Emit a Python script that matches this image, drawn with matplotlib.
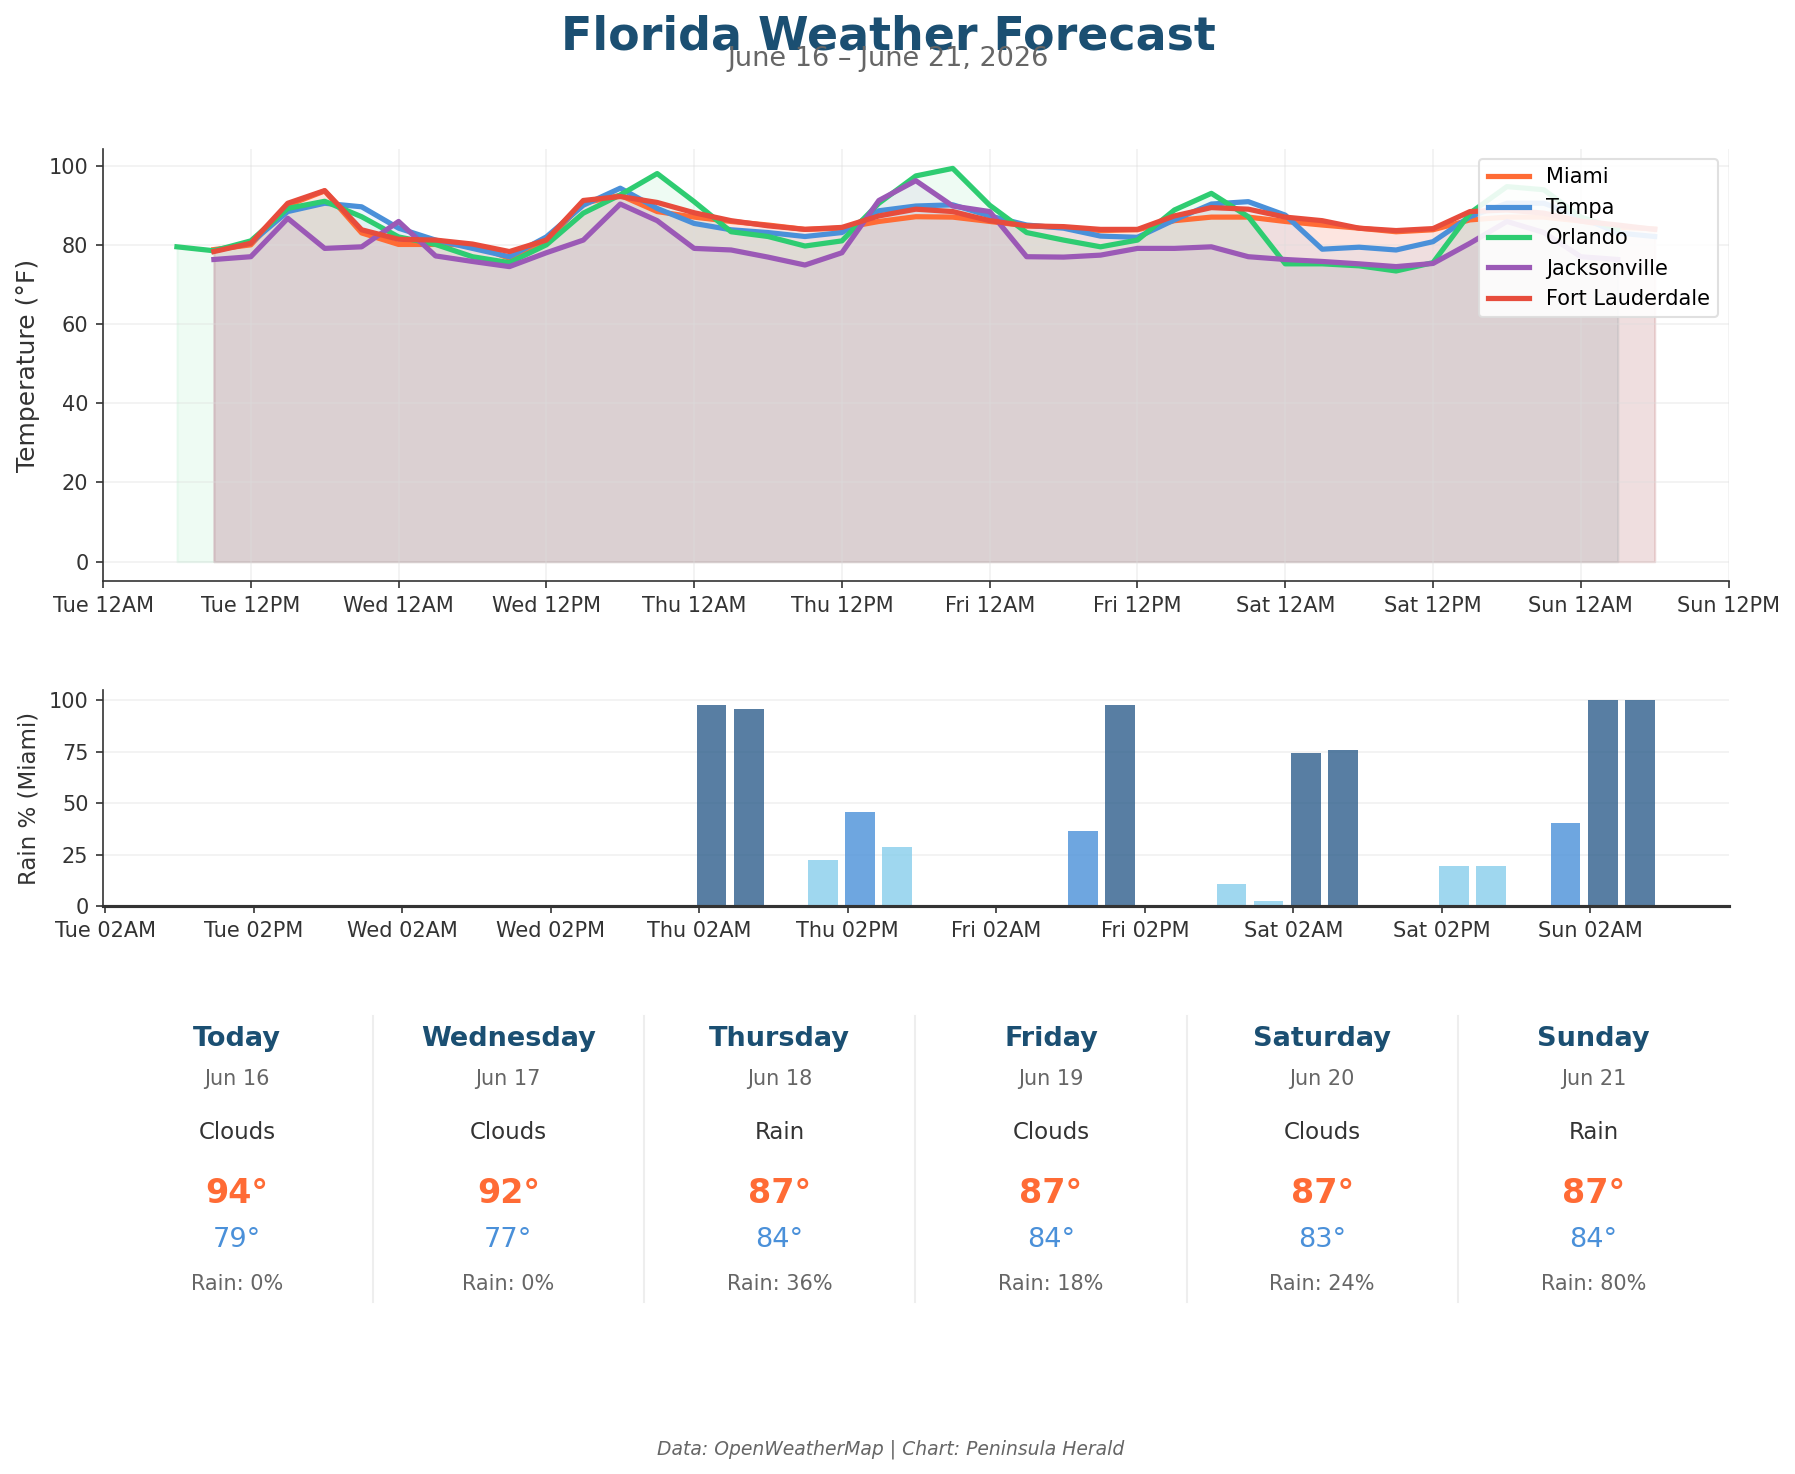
"""Florida weather forecast: city temperatures, Miami rain chance, daily cards."""
import numpy as np
import matplotlib
matplotlib.use("Agg")
import matplotlib.pyplot as plt
import matplotlib.dates as mdates

START = np.datetime64("2026-06-16T00:00")
STEP = np.timedelta64(3, "h")

# 3-hourly temperatures (°F); Miami/Tampa/Fort Lauderdale start Tue 09:00,
# Orlando starts Tue 06:00, Jacksonville starts Tue 09:00 and ends Sun 03:00
miami = [78.8, 80.0, 90.0, 93.6, 83.0, 80.1, 80.1, 80.0, 76.6, 81.0,
         90.5, 92.5, 88.4, 87.0, 85.9, 85.0, 83.9, 84.2, 85.9, 87.1,
         87.0, 85.9, 84.8, 84.4, 83.6, 83.8, 86.1, 87.0, 87.0, 85.9,
         85.0, 84.2, 83.3, 83.8, 86.3, 87.0, 87.0, 86.0, 84.5, 84.0]
tampa = [78.5, 80.5, 88.4, 90.5, 89.6, 84.2, 81.2, 79.1, 77.0, 82.0,
         90.0, 94.3, 89.2, 85.4, 83.8, 83.1, 82.1, 83.1, 88.6, 89.8,
         90.1, 87.3, 85.0, 84.2, 82.2, 81.9, 86.3, 90.3, 90.9, 87.5,
         78.9, 79.4, 78.7, 80.8, 87.1, 90.5, 90.5, 87.0, 83.0, 82.1]
orlando = [79.5, 78.5, 81.0, 89.2, 91.0, 87.1, 82.0, 80.1, 77.0, 75.5,
           80.0, 88.0, 92.6, 98.0, 90.9, 83.3, 82.1, 79.7, 81.0, 90.5,
           97.4, 99.3, 90.0, 83.1, 81.2, 79.5, 81.2, 88.8, 93.0, 87.1,
           75.2, 75.2, 74.7, 73.4, 75.5, 88.0, 94.7, 93.9, 87.0, 84.0]
jacksonville = [76.3, 77.0, 86.7, 79.1, 79.5, 85.9, 77.2, 75.8, 74.5, 78.0,
                81.2, 90.3, 86.1, 79.1, 78.7, 76.9, 74.9, 78.0, 91.2, 96.2,
                89.8, 88.4, 77.0, 76.9, 77.4, 79.1, 79.1, 79.5, 77.0, 76.3,
                75.8, 75.2, 74.5, 75.3, 80.4, 85.9, 83.1, 77.0, 76.3]
fort_lauderdale = [78.3, 80.4, 90.5, 93.7, 83.8, 81.4, 81.2, 80.2, 78.3, 81.2,
                   91.2, 92.2, 90.7, 88.1, 86.1, 84.8, 83.9, 84.4, 87.3, 89.0,
                   88.4, 86.1, 84.8, 84.6, 83.9, 83.9, 87.3, 89.4, 89.0, 87.0,
                   86.1, 84.2, 83.6, 84.1, 88.4, 88.8, 88.0, 86.0, 85.0, 83.9]
first_hour = {"Miami": 9, "Tampa": 9, "Orlando": 6, "Jacksonville": 9, "Fort Lauderdale": 9}

# Miami rain probability (%), same 3-hourly steps as Miami temps
miami_rain = [0, 0, 0, 0, 0, 0, 0, 0, 0, 0,
              0, 0, 0, 0, 98, 95.6, 0, 22.7, 46, 29,
              0, 0, 0, 0, 36.8, 98, 0, 0, 11, 2.8,
              74.7, 75.7, 0, 0, 19.8, 19.8, 0, 40.7, 100, 100]

# daily summary cards (Miami)
day_names = ["Today", "Wednesday", "Thursday", "Friday", "Saturday", "Sunday"]
day_dates = ["Jun 16", "Jun 17", "Jun 18", "Jun 19", "Jun 20", "Jun 21"]
conditions = ["Clouds", "Clouds", "Rain", "Clouds", "Clouds", "Rain"]
highs = [94, 92, 87, 87, 87, 87]
lows = [79, 77, 84, 84, 83, 84]
rain_pct = [0, 0, 36, 18, 24, 80]

cities = {
    "Miami": (miami, "#FF6B35"),
    "Tampa": (tampa, "#4A90D9"),
    "Orlando": (orlando, "#2ECC71"),
    "Jacksonville": (jacksonville, "#9B59B6"),
    "Fort Lauderdale": (fort_lauderdale, "#E74C3C"),
}

TITLE_C = "#1B4F72"

fig = plt.figure(figsize=(1795 / 150, 1474 / 150), dpi=150)

# --- temperature panel
ax = fig.add_axes([0.0574, 0.6056, 0.9056, 0.2935])
for name, (vals, color) in cities.items():
    t = START + np.timedelta64(first_hour[name], "h") + STEP * np.arange(len(vals))
    ax.fill_between(t, 0, vals, color=color, alpha=0.08)
    ax.plot(t, vals, color=color, lw=2.5, label=name)
ax.set_xlim(START, START + np.timedelta64(132, "h"))
ax.xaxis.set_major_locator(mdates.HourLocator(byhour=[0, 12]))
ax.xaxis.set_major_formatter(mdates.DateFormatter("%a %I%p"))
ax.set_yticks([0, 20, 40, 60, 80, 100])
ax.set_ylabel("Temperature (°F)", fontsize=12, color="#333333")
ax.grid(True, color="#dddddd", alpha=0.4, lw=0.8)
ax.legend(loc="upper right", fontsize=10, framealpha=0.9, edgecolor="#dddddd")
for s in ["top", "right"]:
    ax.spines[s].set_visible(False)
ax.spines["left"].set_color("#333333")
ax.spines["bottom"].set_color("#333333")
ax.tick_params(colors="#333333", labelsize=10)

# --- rain panel
ax2 = fig.add_axes([0.0574, 0.3851, 0.9056, 0.1467])
rt = START + np.timedelta64(9, "h") + STEP * np.arange(len(miami_rain))
bar_colors = ["#2E5E8C" if r >= 50 else "#4A90D9" if r >= 30 else "#87CEEB" for r in miami_rain]
ax2.bar(rt, miami_rain, width=0.1, color=bar_colors, alpha=0.8)
ax2.set_ylim(0, 105)
ax2.set_yticks([0, 25, 50, 75, 100])
ax2.xaxis.set_major_locator(mdates.HourLocator(byhour=[2, 14]))
ax2.xaxis.set_major_formatter(mdates.DateFormatter("%a %I%p"))
ax2.set_ylabel("Rain % (Miami)", fontsize=11, color="#333333")
ax2.grid(True, axis="y", color="#dddddd", alpha=0.4, lw=0.8)
ax2.set_axisbelow(True)
for s in ["top", "right"]:
    ax2.spines[s].set_visible(False)
ax2.spines["left"].set_color("#333333")
ax2.spines["bottom"].set_color("#333333")
ax2.spines["bottom"].set_linewidth(1.5)
ax2.tick_params(colors="#333333", labelsize=10)

# --- daily cards
col_w = 237 / 1568
x0 = 207 / 1568
for i in range(len(day_names)):
    cx = x0 + i * col_w
    fig.text(cx, 0.295, day_names[i], ha="center", va="center", fontsize=13,
             fontweight="bold", color=TITLE_C)
    fig.text(cx, 0.268, day_dates[i], ha="center", va="center", fontsize=10, color="#666666")
    fig.text(cx, 0.232, conditions[i], ha="center", va="center", fontsize=11, color="#333333")
    fig.text(cx, 0.190, f"{highs[i]}°", ha="center", va="center", fontsize=16,
             fontweight="bold", color="#FF6B35")
    fig.text(cx, 0.159, f"{lows[i]}°", ha="center", va="center", fontsize=13, color="#4A90D9")
    fig.text(cx, 0.129, f"Rain: {rain_pct[i]}%", ha="center", va="center", fontsize=10,
             color="#666666")
    if i < len(day_names) - 1:
        sx = cx + col_w / 2
        fig.add_artist(plt.Line2D([sx, sx], [0.1165, 0.311], transform=fig.transFigure,
                                  color="#eeeeee", lw=1))

fig.text(0.495, 0.975, "Florida Weather Forecast", ha="center", va="center",
         fontsize=22, fontweight="bold", color=TITLE_C)
fig.text(0.495, 0.960, "June 16 – June 21, 2026", ha="center", va="center",
         fontsize=13, color="#666666")
fig.text(0.496, 0.017, "Data: OpenWeatherMap | Chart: Peninsula Herald", ha="center",
         va="center", fontsize=9, style="italic", color="#666666")

fig.savefig("out.png", dpi=150, facecolor="white")
plt.close(fig)
